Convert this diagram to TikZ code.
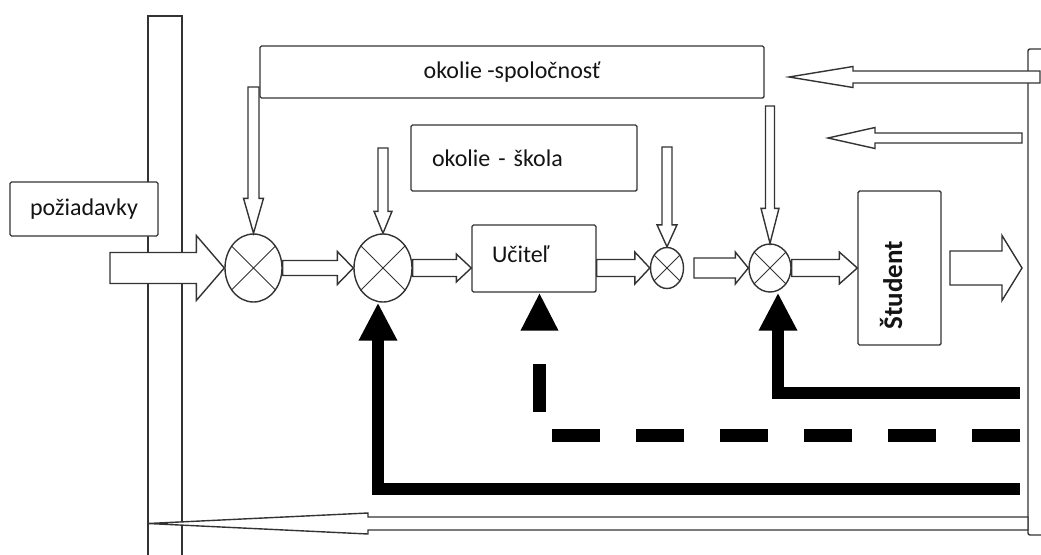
\documentclass[tikz,border=0pt]{standalone}
\usepackage{fontspec}
\setmainfont{Carlito}
\usetikzlibrary{calc,arrows.meta,shapes.geometric}

\tikzset{
  outline/.style={draw=black!80, line width=1.4pt},
  box/.style={outline, fill=white, rounded corners=1.5pt, inner sep=0pt,
    font=\fontsize{24}{28}\selectfont, text=black!92},
  hollow/.style={outline, fill=white, line join=miter},
  summer/.style={outline, fill=white, ellipse, inner sep=0pt},
  feedback/.style={line width=12pt, line join=miter, line cap=butt,
    -{Triangle[length=38pt,width=36pt]}},
}

% hollow block arrow: start, tip, shaft half-width, head half-width, head length
\newcommand\blockarrow[5]{%
  \coordinate (ba-base) at ($(#2)!#5!(#1)$);
  \draw[hollow] ($(#1)!#3!90:(#2)$) -- ($(ba-base)!#3!90:(#2)$)
    -- ($(ba-base)!#4!90:(#2)$) -- (#2) -- ($(ba-base)!#4!-90:(#2)$)
    -- ($(ba-base)!#3!-90:(#2)$) -- ($(#1)!#3!-90:(#2)$) -- cycle;}

% summing junction with a cross
\newcommand\crossmark[1]{%
  \draw[outline, line width=1pt] (#1.45) -- (#1.225) (#1.135) -- (#1.315);}

\begin{document}
\begin{tikzpicture}[x=1pt, y=-1pt]
\useasboundingbox (0,0) rectangle (1041,554);
\clip (0,0) rectangle (1041,554);

% system borders
\draw[outline] (148,16) rectangle (182,580);
\draw[outline, line width=2.4pt] (148,16) -- (182,16);
\draw[outline, rounded corners=2pt] (1060,49) -- (1028,49) -- (1028,535) -- (1060,535);

% blocks
\node[box, minimum width=148pt, minimum height=54pt] (req) at (84,209) {požiadavky};
\node[box, minimum width=504pt, minimum height=52pt] (soc) at (512,72) {okolie -spoločnosť};
\node[box, minimum width=226pt, minimum height=66pt, inner xsep=21pt,
      text width=184pt, align=left] (sch) at (524,158) {okolie - škola};
\node[box, minimum width=124pt, minimum height=67pt, inner xsep=20pt,
      text width=84pt, align=left, text height=17pt, text depth=10pt] (U) at (534,258.5) {Učiteľ};
\node[box, minimum width=83pt, minimum height=154pt] (S) at (899.5,268) {};
\node[rotate=90, font=\bfseries\fontsize{27}{30}\selectfont, text=black!92] (stxt) at (891,285) {Študent};

% summing junctions
\node[summer, minimum width=57pt, minimum height=68pt] (c1) at (253.5,268) {};
\node[summer, minimum width=58pt, minimum height=68pt] (c2) at (383,268) {};
\node[summer, minimum width=33pt, minimum height=41pt] (c3) at (667,268) {};
\node[summer, minimum width=42pt, minimum height=48pt] (c4) at (770,268) {};
\crossmark{c1}\crossmark{c2}\crossmark{c3}\crossmark{c4}

% free ends of the flows
\coordinate (in) at (110,268);
\coordinate (d1) at (253.5,87);
\coordinate (d2) at (383,148);
\coordinate (d3) at (667,147);
\coordinate (d4) at (770,106);
\coordinate (a34) at (694,268);
\coordinate (outs) at (950,268);
\coordinate (oute) at (1022,268);
\coordinate (t1s) at (1040,77);
\coordinate (t1e) at (789,77);
\coordinate (t2s) at (1022,138);
\coordinate (t2e) at (828,138);
\coordinate (bs) at (1028,523.5);
\coordinate (be) at (148,523.5);
\coordinate (fbL) at (1020,489);
\coordinate (fbM) at (1020,435);
\coordinate (fbR) at (1020,393);

% main forward flow
\blockarrow{in}{c1.west}{15.5pt}{32.5pt}{28pt}
\blockarrow{c1.east}{c2.west}{7.5pt}{16.5pt}{16pt}
\blockarrow{c2.east}{U.west |- c2.east}{8.5pt}{14pt}{15pt}
\blockarrow{U.east |- c3.west}{c3.west}{8.5pt}{16pt}{15pt}
\blockarrow{a34}{c4.west}{10pt}{16pt}{13pt}
\blockarrow{c4.east}{S.west |- c4.east}{8.5pt}{16pt}{18pt}
\blockarrow{outs}{oute}{17pt}{32.5pt}{20pt}

% disturbances from the surroundings
\blockarrow{d1}{c1.north}{5.5pt}{10pt}{35pt}
\blockarrow{d2}{c2.north}{5pt}{9pt}{22pt}
\blockarrow{d3}{c3.north}{5pt}{10pt}{22pt}
\blockarrow{d4}{c4.north}{4.5pt}{9pt}{35pt}

% flows back to the surroundings
\blockarrow{t1s}{t1e}{6pt}{10.5pt}{64pt}
\blockarrow{t2s}{t2e}{5pt}{10.5pt}{47pt}
\blockarrow{bs}{be}{6.5pt}{10.5pt}{220pt}

% feedback loops
\draw[feedback] (fbL) -| ([xshift=-5pt]c2.south);
\draw[feedback] (fbR) -| ([xshift=8pt]c4.south);
\draw[feedback, line width=13pt, dash pattern=on 48pt off 36pt,
      -{Triangle[length=38pt,width=35pt]}] (fbM) -| ([xshift=5.5pt]U.south);
\end{tikzpicture}
\end{document}
